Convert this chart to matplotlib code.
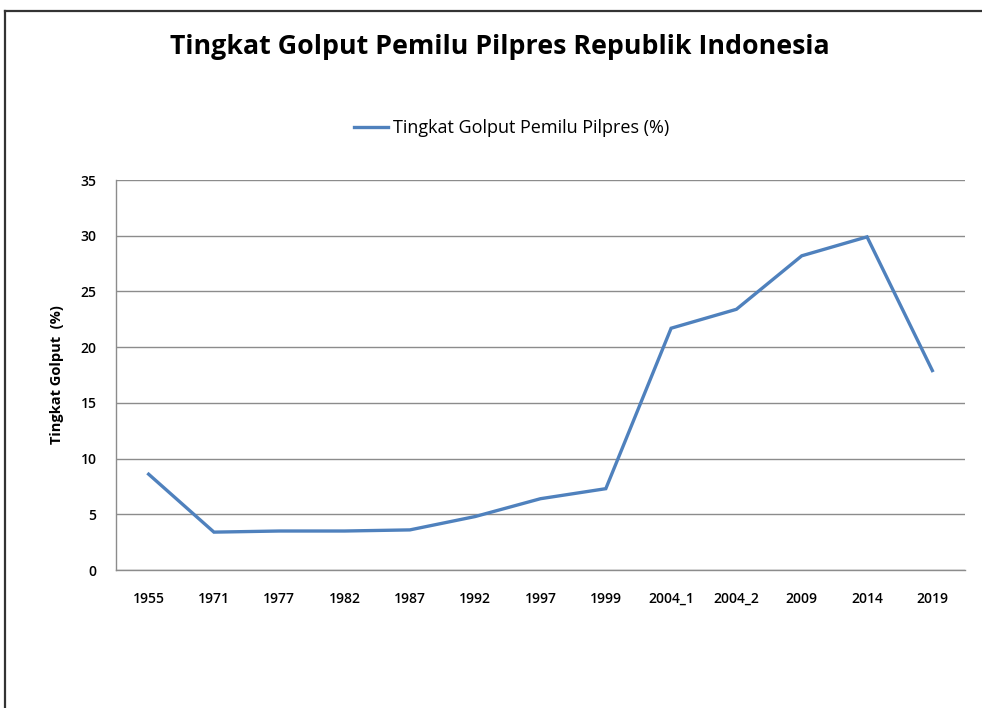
import matplotlib
matplotlib.use("Agg")
import matplotlib.pyplot as plt
from matplotlib.lines import Line2D

categories = ["1955", "1971", "1977", "1982", "1987", "1992", "1997", "1999",
              "2004_1", "2004_2", "2009", "2014", "2019"]
values = [8.6, 3.4, 3.5, 3.5, 3.6, 4.8, 6.4, 7.3, 21.7, 23.4, 28.2, 29.9, 17.9]
series_name = "Tingkat Golput Pemilu Pilpres (%)"
title = "Tingkat Golput Pemilu Pilpres Republik Indonesia"
ylabel = "Tingkat Golput  (%)"
yticks = [0, 5, 10, 15, 20, 25, 30, 35]

plt.rcParams['font.family'] = ['Open Sans', 'DejaVu Sans']

fig = plt.figure(figsize=(9.82, 7.08), dpi=100)
ax = fig.add_axes([0.1181, 0.1949, 0.8646, 0.5508])

x = list(range(len(categories)))
line, = ax.plot(x, values, color="#4F81BD", linewidth=2.4, solid_joinstyle="miter",
                label=series_name)

ax.set_xlim(-0.5, len(categories) - 0.5)
ax.set_ylim(0, 35)
ax.set_yticks(yticks)
ax.set_xticks(x)
ax.set_xticklabels(categories)
ax.grid(axis="y", color="#8C8C8C", linewidth=1.0)
ax.set_axisbelow(True)
for s in ["top", "right"]:
    ax.spines[s].set_visible(False)
for s in ["left", "bottom"]:
    ax.spines[s].set_color("#8C8C8C")
    ax.spines[s].set_linewidth(1.0)
ax.tick_params(axis="both", length=0, labelsize=10, colors="black")
ax.tick_params(axis="x", pad=16)
ax.tick_params(axis="y", pad=14)
for lab in ax.get_xticklabels() + ax.get_yticklabels():
    lab.set_fontweight("semibold")

ax.set_ylabel(ylabel, fontsize=10.5, fontweight="bold")
ax.yaxis.set_label_coords(-0.061, 0.5)

fig.text(0.509, 0.934, title, ha="center", va="center", fontsize=19.3, fontweight="bold")

fig.legend(handles=[line], labels=[series_name], loc="center", bbox_to_anchor=(0.521, 0.819),
           frameon=False, fontsize=13, handlelength=1.9, handletextpad=0.25)

# outer border
fig.add_artist(Line2D([0.005, 1.0], [0.985, 0.985], transform=fig.transFigure,
                      color="#333333", linewidth=1.6))
fig.add_artist(Line2D([0.005, 0.005], [0.0, 0.985], transform=fig.transFigure,
                      color="#333333", linewidth=1.6))

fig.savefig("out.png", dpi=100)
